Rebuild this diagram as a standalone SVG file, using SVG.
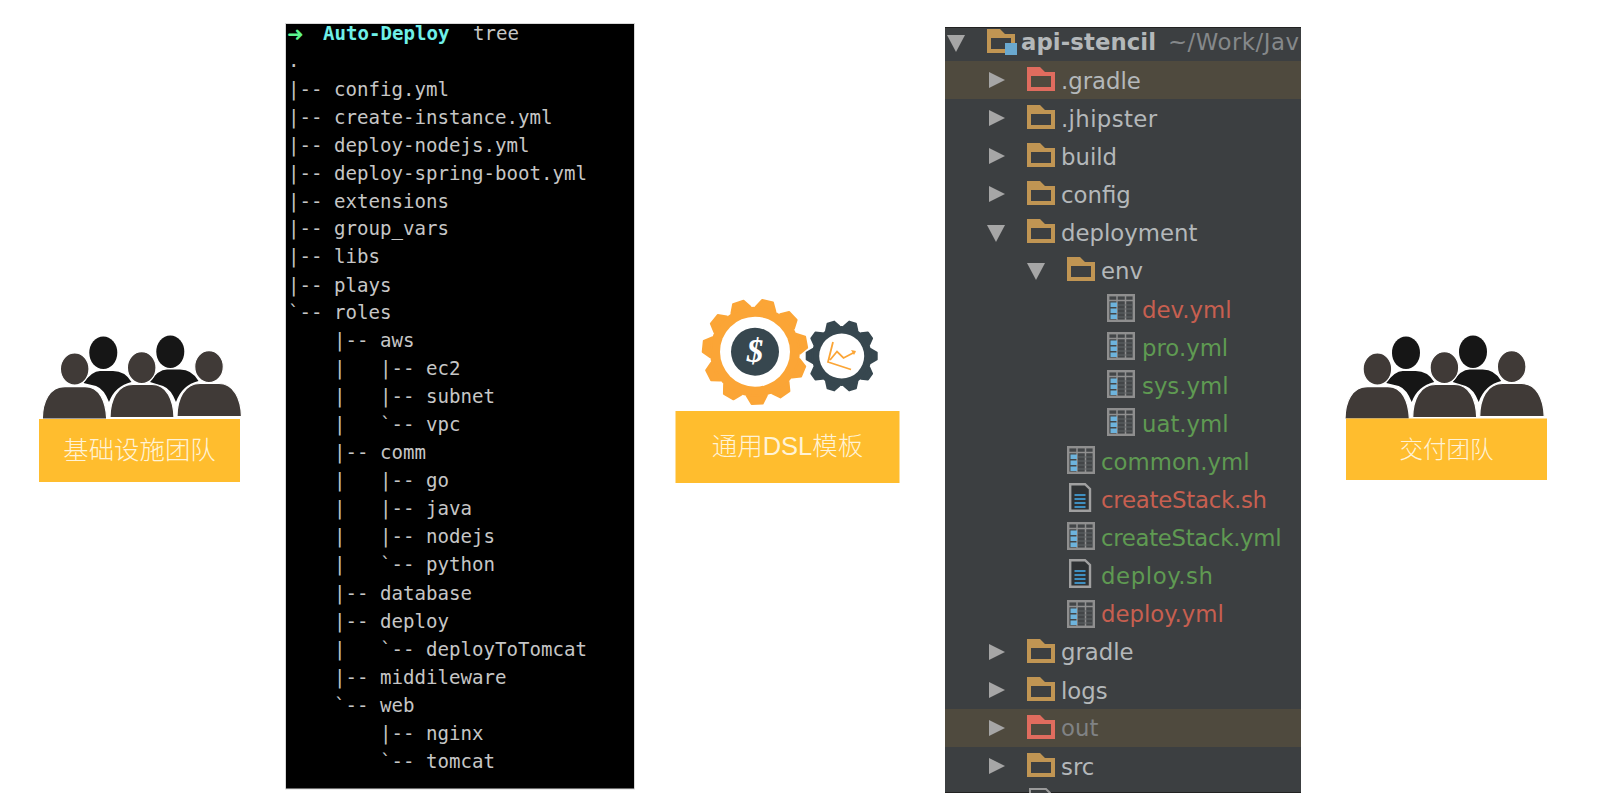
<svg xmlns="http://www.w3.org/2000/svg" width="1600" height="799" viewBox="0 0 1600 799">
<style>
.lb{fill:#ffbd2e}
.cjk{font-family:"Noto Sans CJK SC","Noto Sans",sans-serif;font-weight:300;fill:#fff3d6;text-anchor:middle}
.t{font-family:"DejaVu Sans Mono","Liberation Mono",monospace;font-size:19.1px;fill:#c6c6c6;white-space:pre}
.i{font-family:"DejaVu Sans","Liberation Sans",sans-serif;font-size:22.8px;fill:#b4b8ba}
.r{fill:#c75f50}.g{fill:#5f9a52}
.tri{fill:#a6a6a6}
.band{fill:#4f4a3e}
.fo{fill:#c09553}.fr{fill:#e06c5e}
.to{fill:#fba536;stroke:#fba536;stroke-width:2;stroke-linejoin:round}
.ts{fill:#37474f;stroke:#37474f;stroke-width:2;stroke-linejoin:round}
</style>
<defs>
<clipPath id="pc"><rect x="945" y="27" width="356" height="766"/></clipPath>
<path id="folder" fill-rule="evenodd" d="M0 0H13L18 5H28V24H0ZM4 9V20H24V9Z"/>
<path id="tr" class="tri" d="M0 0L16 8L0 16Z"/>
<path id="td" class="tri" d="M0 0H18L9 17Z"/>
<path id="tooth-b" d="M-10 -44L-5.500 -52H5.500L10 -44Z"/>
<path id="tooth-s" d="M-7 -29L-3.500 -35H3.500L7 -29Z"/>
<g id="yml">
<rect x="1.200" y="1.200" width="25.600" height="25.600" fill="#434648" stroke="#8f8f8f" stroke-width="2.400"/>
<path d="M1 6.500H27M10 1V27M18.500 1V27" stroke="#8f8f8f" stroke-width="1.500" fill="none"/>
<path d="M11 11H26M11 15H26M11 19H26M11 23H26" stroke="#5f6264" stroke-width="1"/>
<rect x="3.500" y="8.500" width="6.500" height="4.500" fill="#6db3dc"/><rect x="3.500" y="14.500" width="6.500" height="4.500" fill="#6db3dc"/><rect x="3.500" y="20.500" width="6.500" height="4.500" fill="#6db3dc"/>
</g>
<g id="sh">
<path d="M1.200 1.200H16L21 6V27.800H1.200Z" fill="#2f3234" stroke="#a0a0a0" stroke-width="2.400"/>
<path d="M5.500 12H16.500M5.500 16H16.500M5.500 20H16.500M5.500 24H16.500" stroke="#3f8fc0" stroke-width="1.800"/>
</g>
<g id="people">
<path fill="#161616" d="M83.500 383Q92 371 100 371H113Q125 371 131.500 382Q115 386 109 402Q104 389 96 386Z"/>
<path fill="#161616" d="M150 382Q158 369.500 167 369.500H180Q192 369.500 198.500 381Q182 385 176 402Q171 389 163 386Z"/>
<ellipse cx="103.300" cy="352.700" rx="14" ry="16.300" fill="#161616"/>
<ellipse cx="170.300" cy="351.700" rx="14" ry="16.300" fill="#161616"/>
<g fill="#403a37" stroke="#fff" stroke-width="1.200">
<ellipse cx="74.700" cy="369" rx="14.300" ry="16"/>
<ellipse cx="141.700" cy="367.700" rx="14.300" ry="16"/>
<ellipse cx="209" cy="366.700" rx="14.300" ry="16"/>
<path d="M42.300 419C42.500 402 49 386.700 65 386.700H85C100 386.700 106 402 106.700 419Z"/>
<path d="M110 417.500C110.200 400 117 384.500 133 384.500H152C167 384.500 173.500 400 174 417.500Z"/>
<path d="M177 416.500C177.200 399 184 383.500 200 383.500H219C234 383.500 241 399 241.500 416.500Z"/>
</g>
</g>
</defs>

<g id="team-left">
<use href="#people"/>
<rect class="lb" x="39" y="419" width="201" height="63"/>
<text class="cjk" x="139.500" y="459" font-size="25.400">基础设施团队</text>
</g>

<g id="terminal">
<rect x="285.500" y="23.500" width="349" height="765.500" fill="#000" stroke="#d8d8d8" stroke-width="1"/>
<text x="287" y="41" font-family="'DejaVu Sans',sans-serif" font-size="20" font-weight="700" fill="#5cf58e">➜</text>
<text class="t" x="323" y="40" style="fill:#6ff0e8;font-weight:700">Auto-Deploy</text>
<text class="t" x="473" y="40">tree</text>
<text class="t" x="288" y="67">.</text>
<text class="t" x="288" y="96">|-- config.yml</text>
<text class="t" x="288" y="123.500">|-- create-instance.yml</text>
<text class="t" x="288" y="152">|-- deploy-nodejs.yml</text>
<text class="t" x="288" y="180">|-- deploy-spring-boot.yml</text>
<text class="t" x="288" y="208">|-- extensions</text>
<text class="t" x="288" y="235">|-- group_vars</text>
<text class="t" x="288" y="263">|-- libs</text>
<text class="t" x="288" y="291.500">|-- plays</text>
<text class="t" x="288" y="319">`-- roles</text>
<text class="t" x="288" y="347">    |-- aws</text>
<text class="t" x="288" y="375">    |   |-- ec2</text>
<text class="t" x="288" y="403">    |   |-- subnet</text>
<text class="t" x="288" y="431">    |   `-- vpc</text>
<text class="t" x="288" y="459">    |-- comm</text>
<text class="t" x="288" y="487">    |   |-- go</text>
<text class="t" x="288" y="515">    |   |-- java</text>
<text class="t" x="288" y="543">    |   |-- nodejs</text>
<text class="t" x="288" y="571">    |   `-- python</text>
<text class="t" x="288" y="600">    |-- database</text>
<text class="t" x="288" y="627.500">    |-- deploy</text>
<text class="t" x="288" y="655.500">    |   `-- deployToTomcat</text>
<text class="t" x="288" y="683.500">    |-- middileware</text>
<text class="t" x="288" y="712">    `-- web</text>
<text class="t" x="288" y="740">        |-- nginx</text>
<text class="t" x="288" y="768">        `-- tomcat</text>
</g>

<g id="dsl-template">
<g id="gear-big" transform="translate(755 351.700)">
<circle r="45" fill="#fba536"/>
<g class="to">
<use href="#tooth-b" transform="rotate(14)"/><use href="#tooth-b" transform="rotate(46.700)"/><use href="#tooth-b" transform="rotate(79.500)"/><use href="#tooth-b" transform="rotate(112.200)"/><use href="#tooth-b" transform="rotate(144.900)"/><use href="#tooth-b" transform="rotate(177.600)"/><use href="#tooth-b" transform="rotate(210.400)"/><use href="#tooth-b" transform="rotate(243.100)"/><use href="#tooth-b" transform="rotate(275.800)"/><use href="#tooth-b" transform="rotate(308.500)"/><use href="#tooth-b" transform="rotate(341.300)"/>
</g>
<circle r="35" fill="#fff"/>
<circle r="24" fill="#37474f"/>
<text x="0" y="10" font-family="'Liberation Serif',serif" font-size="33" font-weight="700" font-style="italic" fill="#fff" text-anchor="middle">$</text>
</g>
<g id="gear-small" transform="translate(841.700 356)">
<circle r="30" fill="#37474f"/>
<g class="ts">
<use href="#tooth-s" transform="rotate(18)"/><use href="#tooth-s" transform="rotate(54)"/><use href="#tooth-s" transform="rotate(90)"/><use href="#tooth-s" transform="rotate(126)"/><use href="#tooth-s" transform="rotate(162)"/><use href="#tooth-s" transform="rotate(198)"/><use href="#tooth-s" transform="rotate(234)"/><use href="#tooth-s" transform="rotate(270)"/><use href="#tooth-s" transform="rotate(306)"/><use href="#tooth-s" transform="rotate(342)"/>
</g>
<circle r="22.500" fill="#fff"/>
<path d="M-8.700 -14L-13.700 6L9.300 13.500M-11.700 4L-4.700 -4.500L1.800 2L13.300 -4" fill="none" stroke="#fba536" stroke-width="1.800"/>
<path d="M9.300 -6L14.300 -5L12.300 -1Z" fill="#fba536"/>
</g>
<rect class="lb" x="675.500" y="411" width="224" height="72"/>
<text class="cjk" x="787.500" y="455" font-size="25.500" style="font-family:'Liberation Sans','Noto Sans CJK SC',sans-serif">通用DSL模板</text>
</g>

<g id="project-panel">
<rect x="945" y="27" width="356" height="766" fill="#3c3f41"/>
<rect class="band" x="945" y="61" width="356" height="38"/>
<rect class="band" x="945" y="709" width="356" height="38"/>
<path d="M945 27.500H1301" stroke="#222" stroke-width="1"/>
<path d="M945 792.500H1301" stroke="#222" stroke-width="1"/>
<g clip-path="url(#pc)">
<use href="#td" x="947" y="35"/>
<use href="#folder" class="fo" x="987" y="29"/>
<rect x="1005" y="43" width="12" height="12" fill="#6aa9d0"/>
<text class="i" x="1021" y="50" font-weight="700" textLength="135">api-stencil</text>
<text class="i" x="1168" y="50" textLength="131" style="fill:#85888a">~/Work/Jav</text>

<use href="#tr" x="989" y="72"/>
<use href="#folder" class="fr" x="1027" y="67"/>
<text class="i" x="1061" y="89">.gradle</text>
<use href="#tr" x="989" y="110"/>
<use href="#folder" class="fo" x="1027" y="105"/>
<text class="i" x="1061" y="127" textLength="96">.jhipster</text>
<use href="#tr" x="989" y="148"/>
<use href="#folder" class="fo" x="1027" y="143"/>
<text class="i" x="1061" y="165">build</text>
<use href="#tr" x="989" y="186"/>
<use href="#folder" class="fo" x="1027" y="181"/>
<text class="i" x="1061" y="203">config</text>
<use href="#td" x="987" y="225"/>
<use href="#folder" class="fo" x="1027" y="219"/>
<text class="i" x="1061" y="241">deployment</text>
<use href="#td" x="1027" y="263"/>
<use href="#folder" class="fo" x="1067" y="257"/>
<text class="i" x="1101" y="279">env</text>

<use href="#yml" x="1107" y="294"/>
<text class="i r" x="1142" y="318">dev.yml</text>
<use href="#yml" x="1107" y="332"/>
<text class="i g" x="1142" y="356">pro.yml</text>
<use href="#yml" x="1107" y="370"/>
<text class="i g" x="1142" y="394">sys.yml</text>
<use href="#yml" x="1107" y="408"/>
<text class="i g" x="1142" y="432">uat.yml</text>
<use href="#yml" x="1067" y="446"/>
<text class="i g" x="1101" y="470">common.yml</text>
<use href="#sh" x="1069" y="483"/>
<text class="i r" x="1101" y="508" textLength="166">createStack.sh</text>
<use href="#yml" x="1067" y="522"/>
<text class="i g" x="1101" y="546" textLength="180.500">createStack.yml</text>
<use href="#sh" x="1069" y="559"/>
<text class="i g" x="1101" y="584" textLength="112">deploy.sh</text>
<use href="#yml" x="1067" y="600"/>
<text class="i r" x="1101" y="622">deploy.yml</text>

<use href="#tr" x="989" y="644"/>
<use href="#folder" class="fo" x="1027" y="639"/>
<text class="i" x="1061" y="660">gradle</text>
<use href="#tr" x="989" y="682"/>
<use href="#folder" class="fo" x="1027" y="677"/>
<text class="i" x="1061" y="699">logs</text>
<use href="#tr" x="989" y="720"/>
<use href="#folder" class="fr" x="1027" y="715"/>
<text class="i" x="1061" y="736" style="fill:#808284">out</text>
<use href="#tr" x="989" y="758"/>
<use href="#folder" class="fo" x="1027" y="753"/>
<text class="i" x="1061" y="775">src</text>
<path d="M1030 796V789H1046L1050 793V796" fill="#3c3f41" stroke="#9a9a9a" stroke-width="2"/>
</g>
</g>

<g id="team-right">
<use href="#people" x="1302.700"/>
<rect class="lb" x="1346" y="418.500" width="201" height="61.500"/>
<text class="cjk" x="1446.500" y="458" font-size="23.500">交付团队</text>
</g>
</svg>
